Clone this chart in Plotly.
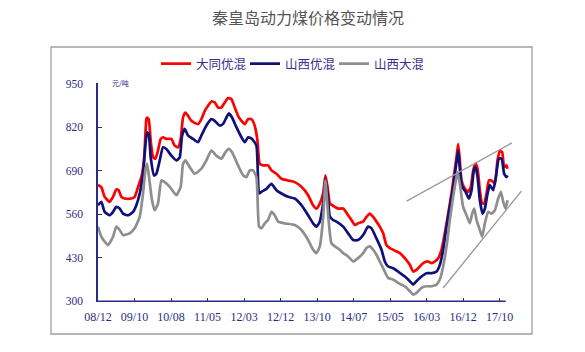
import plotly.graph_objects as go

# ---------------- data ----------------
tick_labels = ["08/12", "09/10", "10/08", "11/05", "12/03", "12/12",
               "13/10", "14/07", "15/05", "16/03", "16/12", "17/10"]
weeks_per_tick = 42
tick_weeks = [i * weeks_per_tick for i in range(len(tick_labels))]
y_ticks = [300, 430, 560, 690, 820, 950]
axis_end_week = 469

series_names = ["大同优混", "山西优混", "山西大混"]

datong_week = [0, 3.8, 7.7, 13.4, 17.3, 21.1, 23.8, 26.9, 30.7, 38.4, 42.2, 46, 49.9, 52.9,
               55.6, 56.4, 58.3, 60.6, 63.3, 66, 69, 72.1, 74.8, 78.6, 84.4, 88.2, 92.1, 95.1,
               97.8, 100.5, 103.6, 107.4, 115.1, 118.9, 122.8, 126.6, 130.4, 134.3, 138.1,
               141.9, 145.8, 149.6, 153.4, 157.3, 161.1, 165, 168.8, 172.6, 176.5, 180.3,
               183.4, 186, 189.9, 195.6, 199.5, 205.2, 211, 218.7, 226.3, 234, 241.7, 247.4,
               251.3, 255.1, 258.9, 261.6, 264, 266.7, 269.3, 272.4, 276.2, 282, 287.7, 291.5,
               295.4, 299.2, 305, 308.8, 312.6, 316.5, 320.3, 324.1, 328, 331.8, 335.7, 339.5,
               343.3, 347.2, 352.9, 358.7, 362.5, 366.3, 370.2, 374, 379.8, 383.6, 387.4,
               391.3, 395.1, 398.9, 402.8, 406.6, 409.7, 412.4, 414.3, 416.2, 418.1, 421.9,
               425.8, 428.8, 431.6, 434.2, 436.6, 439.2, 441.9, 444.2, 446.9, 449.6, 452.6,
               456.5, 459.5, 462.2, 464.9, 467.2, 469.9, 471]
datong_price = [648, 641, 612, 597, 612, 634, 632, 612, 607, 607, 612, 641, 671, 721,
                844, 849, 844, 780, 731, 726, 750, 785, 790, 785, 785, 765, 760, 785,
                849, 864, 854, 839, 829, 844, 869, 884, 897, 894, 879,
                879, 894, 907, 904, 879, 854, 839, 829, 844, 844, 824,
                780, 711, 706, 706, 691, 681, 666, 661, 656, 642, 617, 587,
                577, 592, 622, 676, 642, 592, 587, 582, 577, 577, 557, 543,
                528, 533, 538, 552, 562, 552, 538, 523, 503, 468, 459, 454,
                449, 444, 429, 409, 389, 394, 404, 414, 419, 414, 419,
                429, 454, 503, 562, 622, 681, 731, 770, 721, 661, 637,
                627, 642, 691, 711, 696, 632, 592, 592, 622, 661, 661,
                651, 721, 750, 745, 701, 706, 696]

shanxi_week = [0, 3.8, 7.7, 13.4, 17.3, 21.1, 24.9, 28.8, 34.5, 40.3, 44.1, 48, 51.8, 53.7,
               56.4, 58.3, 60.6, 64.4, 67.1, 71, 74.8, 78.6, 84.4, 90.1, 94, 96.7, 99.7,
               103.6, 109.3, 115.1, 118.9, 124.7, 130.4, 134.3, 140, 143.9, 147.7, 150.4,
               154.2, 159.2, 165, 168.8, 172.6, 177.2, 182.2, 185.3, 188, 193.7, 199.5,
               205.2, 211, 218.7, 226.3, 234, 241.7, 247.4, 251.3, 255.1, 258.9, 261.6, 264,
               266.7, 270.4, 274.3, 282, 287.7, 293.5, 299.2, 305, 310.7, 314.6, 320.3,
               326.1, 329.9, 333.7, 339.5, 345.2, 352.9, 358.7, 362.5, 366.3, 372.1, 377.8,
               383.6, 389.4, 393.2, 397, 400.9, 404.7, 408.5, 411.6, 414.3, 416.2, 418.9,
               422.8, 426.6, 429.7, 432.3, 434.2, 436.6, 439.2, 442.3, 445, 448.1, 450.7,
               454.6, 457.6, 461.1, 464.2, 467.2, 469.9, 471]
shanxi_price = [587, 597, 567, 557, 567, 582, 577, 562, 557, 567, 587, 622, 681, 740,
                805, 800, 731, 676, 681, 721, 760, 755, 735, 721, 730, 795, 815,
                795, 785, 775, 795, 825, 844, 839, 825, 830, 849, 861,
                849, 820, 790, 775, 790, 785, 765, 622, 627, 636, 651,
                632, 622, 612, 607, 587, 557, 533, 523, 538, 592, 666, 622,
                553, 543, 538, 523, 503, 483, 483, 498, 523, 518, 488,
                454, 419, 404, 399, 389, 374, 360, 350, 360, 374, 384,
                384, 389, 409, 454, 523, 582, 642, 701, 750, 696, 642,
                627, 607, 632, 691, 701, 671, 602, 562, 577, 622, 647,
                632, 671, 726, 726, 681, 671, 676]

shanxi_mix_week = [0, 3.8, 7.7, 11.5, 17.3, 21.1, 24.9, 28.8, 36.4, 42.2, 48, 51.8, 54.5,
                   56.4, 58.7, 62.1, 65.2, 69, 72.9, 76.7, 82.5, 90.1, 95.1, 97.8, 100.5,
                   105.5, 111.2, 118.9, 124.7, 130.4, 136.2, 141.9, 146.5, 150.4, 154.2,
                   161.1, 166.9, 170.7, 174.5, 178.4, 182.2, 185.3, 188, 191.8, 195.6, 199.5,
                   203.3, 207.1, 214.8, 226.3, 234, 241.7, 247.4, 251.3, 255.1, 258.9, 261.6,
                   264.6, 268.5, 272.4, 278.1, 282, 287.7, 293.5, 299.2, 305, 308.8, 312.6,
                   316.5, 320.3, 324.1, 328, 333.7, 339.5, 345.2, 352.9, 358.7, 362.5, 366.3,
                   372.1, 377.8, 383.6, 389.4, 393.2, 397, 400.9, 404.7, 408.5, 411.6, 413.5,
                   416.2, 420, 423.9, 427.7, 430.4, 432.7, 435.4, 439.2, 441.9, 445, 448.8,
                   452.6, 456.5, 460.3, 463.4, 466.1, 468.8, 471]
shanxi_mix_price = [523, 493, 478, 468, 493, 523, 513, 498, 503, 518, 553, 622, 691,
                    711, 671, 602, 572, 592, 661, 656, 642, 617, 642, 711, 721,
                    701, 681, 696, 721, 750, 735, 726, 745, 755, 745,
                    706, 676, 671, 691, 691, 671, 523, 518, 533, 543, 567,
                    557, 538, 533, 528, 513, 483, 454, 444, 464, 548, 661,
                    562, 473, 464, 454, 444, 434, 419, 429, 444, 459, 464,
                    454, 439, 419, 399, 370, 365, 355, 345, 330, 320, 325,
                    340, 345, 345, 350, 365, 404, 464, 543, 612, 661, 686,
                    651, 582, 557, 533, 562, 577, 543, 513, 493, 533, 567,
                    562, 572, 607, 627, 597, 577, 602]

upper_trend_week = [355, 476]
upper_trend_price = [599, 773]
lower_trend_week = [397, 487]
lower_trend_price = [340, 629]

# ---------------- styling ----------------
W, H = 585, 352
ML, MR, MT, MB = 98, 61, 83, 50
PW, PH = W - ML - MR, H - MT - MB
NAVY = "#2b2b86"
colors = ["#ff0000", "#10107a", "#8e8e8e"]
TREND = "#9a9a9a"


def px_to_paper_x(px):
    return (px - ML) / PW


def py_to_paper_y(py):
    return (H - MB - py) / PH


fig = go.Figure()
for name, xs, ys, c in zip(series_names,
                           [datong_week, shanxi_week, shanxi_mix_week],
                           [datong_price, shanxi_price, shanxi_mix_price],
                           colors):
    fig.add_trace(go.Scatter(x=xs, y=ys, mode="lines", name=name,
                             line=dict(color=c, width=2.7, shape="spline", smoothing=0.5)))

for xs, ys in [(upper_trend_week, upper_trend_price), (lower_trend_week, lower_trend_price)]:
    fig.add_trace(go.Scatter(x=xs, y=ys, mode="lines", showlegend=False,
                             line=dict(color=TREND, width=1.4), hoverinfo="skip"))

# outer frame
fig.add_shape(type="rect", xref="paper", yref="paper",
              x0=px_to_paper_x(51), x1=px_to_paper_x(532),
              y0=py_to_paper_y(334), y1=py_to_paper_y(47),
              line=dict(color="#a0a0a0", width=1.3), fillcolor="rgba(0,0,0,0)", layer="below")
# x axis line (ends before the trend lines do)
fig.add_shape(type="line", xref="x", yref="y", x0=0, x1=axis_end_week,
              y0=y_ticks[0], y1=y_ticks[0], line=dict(color=NAVY, width=1.5))

fig.update_layout(
    width=W, height=H,
    margin=dict(l=ML, r=MR, t=MT, b=MB),
    paper_bgcolor="white", plot_bgcolor="white",
    title=dict(text="秦皇岛动力煤价格变动情况", x=308 / W, xanchor="center",
               y=1 - 18 / H, yanchor="middle", yref="container",
               font=dict(family="Noto Sans CJK SC", size=16, color="#555555")),
    legend=dict(orientation="h", x=px_to_paper_x(156), xanchor="left",
                y=py_to_paper_y(64), yanchor="middle",
                font=dict(family="Noto Sans CJK SC", size=12.5, color="#3a2d8c"),
                bgcolor="rgba(0,0,0,0)", itemwidth=30, tracegroupgap=0,
                entrywidth=44, entrywidthmode="pixels"),
    showlegend=True,
    xaxis=dict(range=[0, 490], showgrid=False, zeroline=False, showline=False,
               tickmode="array", tickvals=tick_weeks, ticktext=tick_labels,
               ticks="inside", ticklen=4, tickcolor=NAVY, tickwidth=1.2,
               ticklabelstandoff=6,
               tickfont=dict(family="Liberation Serif", size=12, color=NAVY)),
    yaxis=dict(range=[298, 952], showgrid=False, zeroline=False, showline=True,
               linecolor=NAVY, linewidth=1.5,
               tickmode="array", tickvals=y_ticks,
               ticks="inside", ticklen=4, tickcolor=NAVY, tickwidth=1.2,
               ticklabelstandoff=11,
               tickfont=dict(family="Liberation Serif", size=11.5, color=NAVY)),
)

fig.add_annotation(text="元/吨", xref="paper", yref="paper",
                   x=px_to_paper_x(110), y=py_to_paper_y(83), xanchor="left", yanchor="middle",
                   showarrow=False, font=dict(family="Noto Sans CJK SC", size=7, color=NAVY))

fig.write_html("out.html")
